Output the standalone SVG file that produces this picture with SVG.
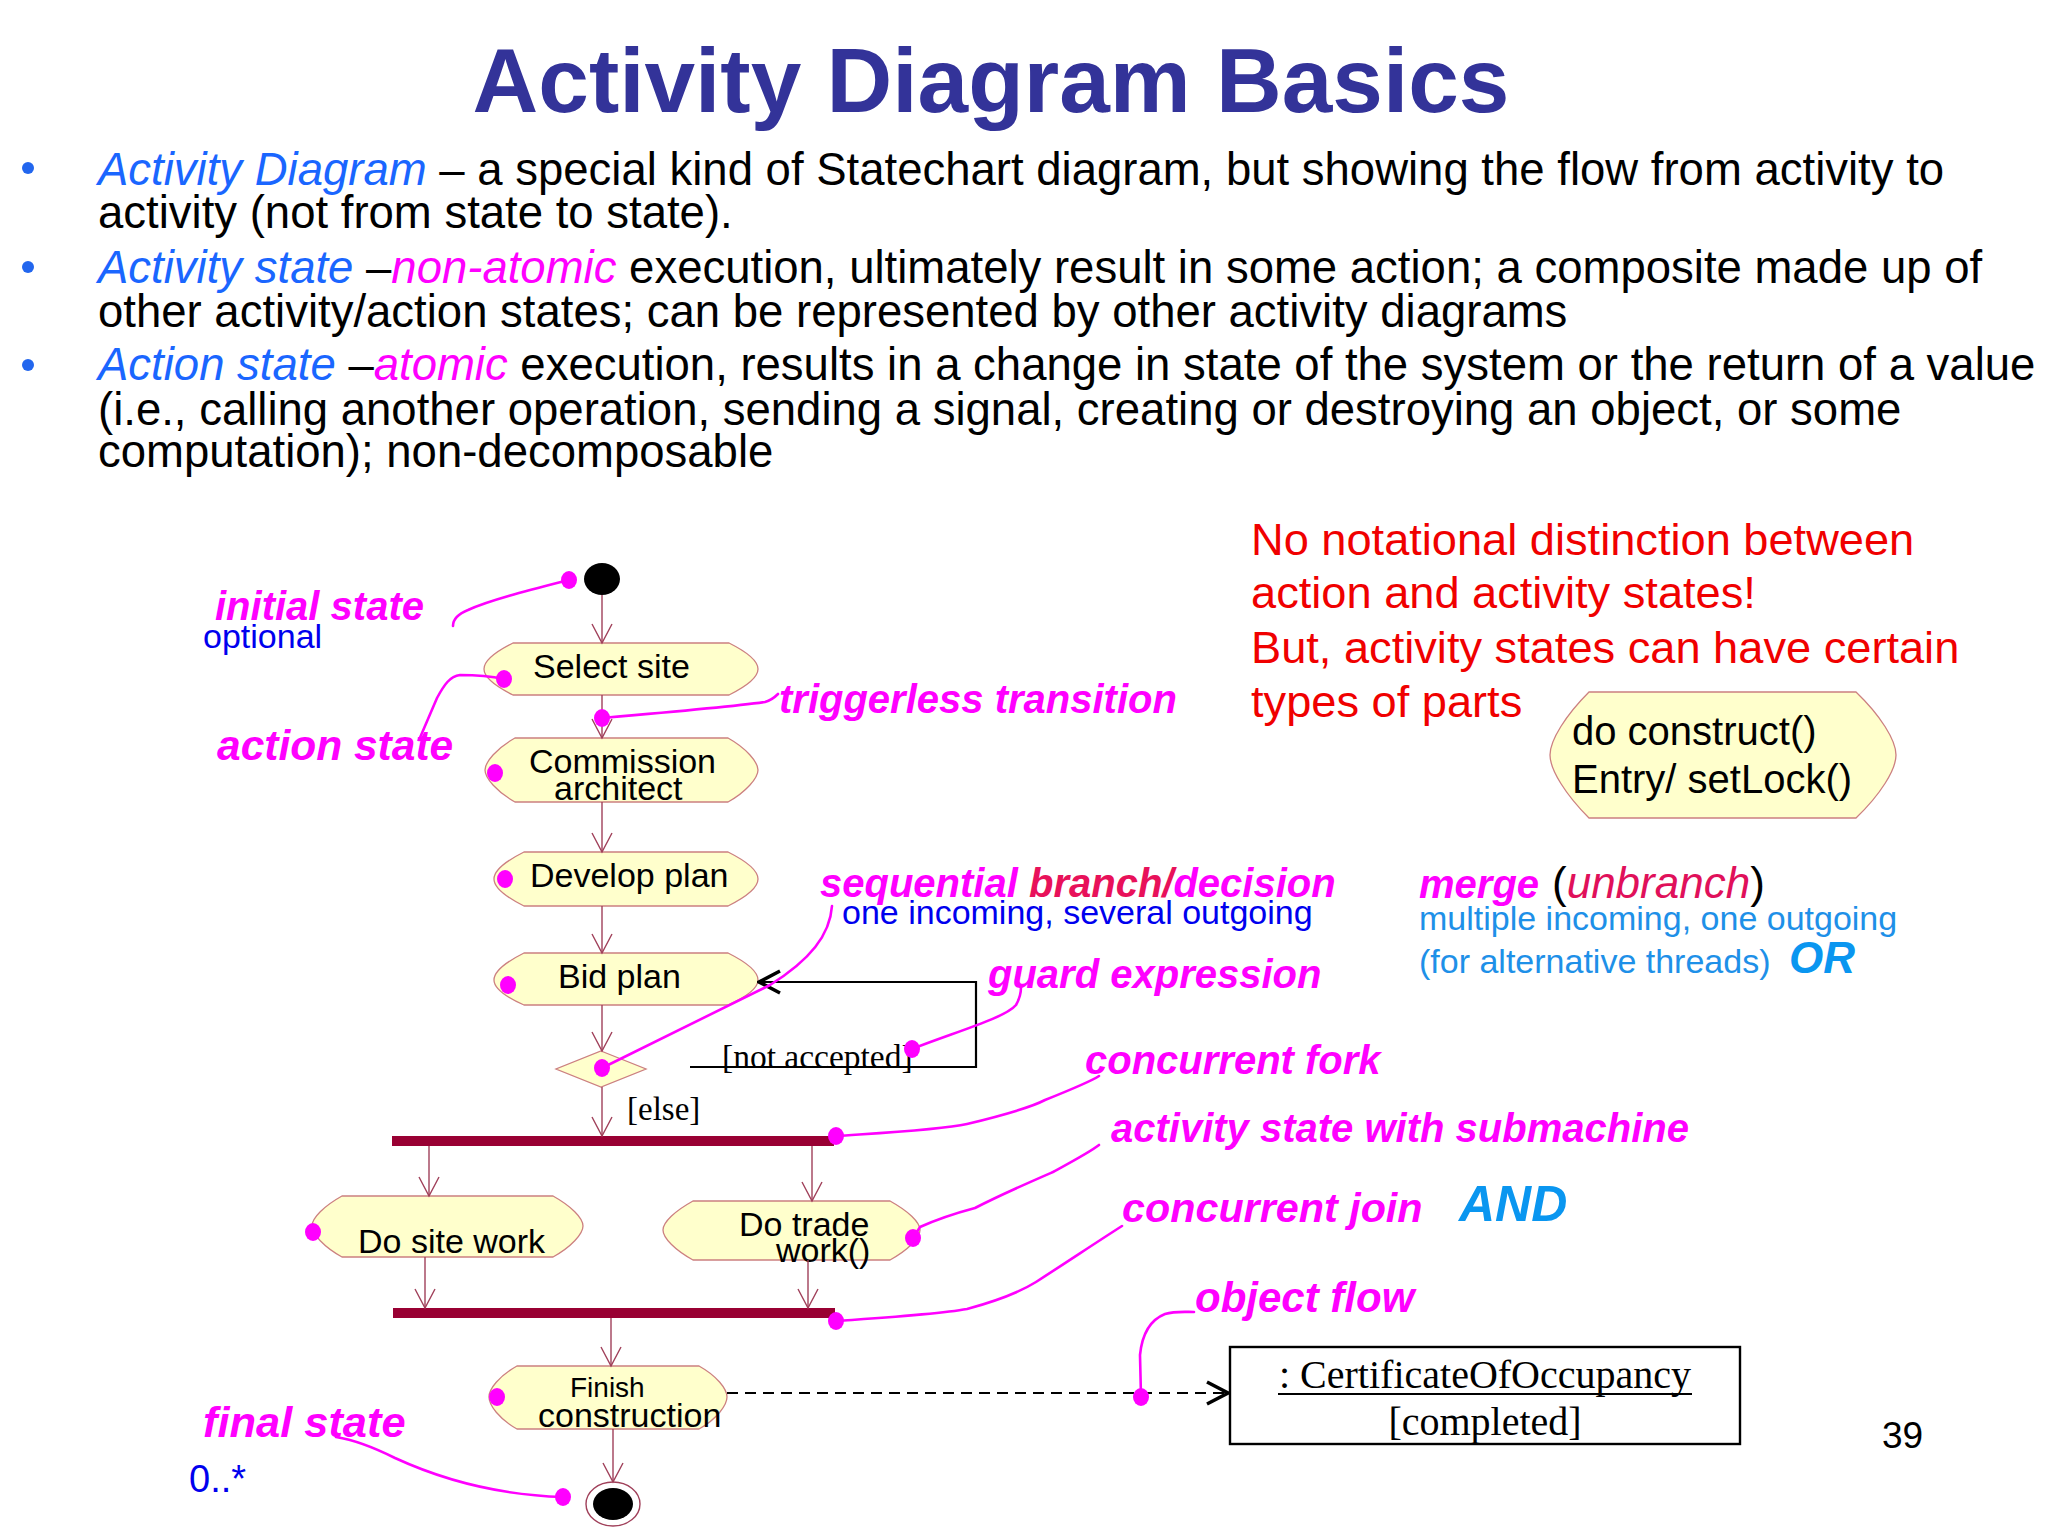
<svg xmlns="http://www.w3.org/2000/svg" width="2048" height="1536" viewBox="0 0 2048 1536">
<defs>
<style>
.sans{font-family:"Liberation Sans",Arial,sans-serif}
.serif{font-family:"Liberation Serif","Times New Roman",serif}
.node{fill:#ffffcc;stroke:#cc8080;stroke-width:1.3}
.tr{fill:none;stroke:#a0405a;stroke-width:1.4;marker-end:url(#v)}
.ann{fill:none;stroke:#ff00ff;stroke-width:2.6;stroke-linecap:round}
.dot{fill:#ff00ff}
.lbl{font-family:"Liberation Sans",Arial,sans-serif;font-weight:bold;font-style:italic;fill:#ff00ff}
.nt{font-family:"Liberation Sans",Arial,sans-serif;fill:#000}
.bt{font-family:"Liberation Sans",Arial,sans-serif;font-size:45.5px;fill:#000}
.blue{fill:#1a66ff;font-style:italic}
.mag{fill:#ff00ff;font-style:italic}
.red{font-family:"Liberation Sans",Arial,sans-serif;font-size:45.2px;fill:#f00000}
.sky{font-family:"Liberation Sans",Arial,sans-serif;font-size:34px;fill:#1e90e8}
.bar{fill:#990033}
</style>
<marker id="v" markerUnits="userSpaceOnUse" viewBox="-21 -12 23 24" refX="0" refY="0" markerWidth="23" markerHeight="24" orient="auto">
<path d="M-19,-10 L0,0 L-19,10" fill="none" stroke="#a0405a" stroke-width="1.4"/>
</marker>
<marker id="blk" markerUnits="userSpaceOnUse" viewBox="-26 -14 28 28" refX="0" refY="0" markerWidth="28" markerHeight="28" orient="auto">
<path d="M-21,-11 L0,0 L-21,11" fill="none" stroke="#000" stroke-width="3.5"/>
</marker>
</defs>
<rect width="2048" height="1536" fill="#ffffff"/>

<g id="title">
<text x="991" y="112" text-anchor="middle" class="sans" font-size="91" font-weight="bold" fill="#333399">Activity Diagram Basics</text>
</g>

<g id="bullets">
<circle cx="28" cy="168" r="6" fill="#2266ee"/>
<circle cx="28" cy="267" r="6" fill="#2266ee"/>
<circle cx="28" cy="365" r="6" fill="#2266ee"/>
<text class="bt" x="98" y="185"><tspan class="blue">Activity Diagram</tspan> – a special kind of Statechart diagram, but showing the flow from activity to</text>
<text class="bt" x="98" y="228">activity (not from state to state).</text>
<text class="bt" x="98" y="283"><tspan class="blue">Activity state</tspan> –<tspan class="mag">non-atomic</tspan> execution, ultimately result in some action; a composite made up of</text>
<text class="bt" x="98" y="327">other activity/action states; can be represented by other activity diagrams</text>
<text class="bt" x="98" y="380"><tspan class="blue">Action state</tspan> –<tspan class="mag">atomic</tspan> execution, results in a change in state of the system or the return of a value</text>
<text class="bt" x="98" y="425">(i.e., calling another operation, sending a signal, creating or destroying an object, or some</text>
<text class="bt" x="98" y="467">computation); non-decomposable</text>
</g>

<g id="note-red">
<text class="red" x="1251" y="555">No notational distinction between</text>
<text class="red" x="1251" y="608">action and activity states!</text>
<text class="red" x="1251" y="663">But, activity states can have certain</text>
<text class="red" x="1251" y="717">types of parts</text>
</g>

<g id="node-construct">
<path class="node" d="M1589 692 H1856 C1880 715 1896 740 1896 755 C1896 770 1880 795 1856 818 H1589 C1566 795 1550 770 1550 755 C1550 740 1566 715 1589 692 Z"/>
<text class="nt" x="1572" y="745" font-size="40">do construct()</text>
<text class="nt" x="1572" y="793" font-size="40">Entry/ setLock()</text>
</g>

<g id="node-initial">
<ellipse cx="602" cy="579" rx="18" ry="16" fill="#000"/>
</g>

<g id="node-select-site">
<path class="node" d="M513 643 H729 C747 652 758 661 758 669 C758 677 747 686 729 695 H513 C495 686 484 677 484 669 C484 661 495 652 513 643 Z"/>
<text class="nt" x="533" y="678" font-size="34">Select site</text>
</g>

<g id="node-commission">
<path class="node" d="M515 738 H728 C746 748 758 762 758 770 C758 778 746 792 728 802 H515 C497 792 485 778 485 770 C485 762 497 748 515 738 Z"/>
<text class="nt" x="529" y="773" font-size="34">Commission</text>
<text class="nt" x="554" y="800" font-size="34">architect</text>
</g>

<g id="node-develop">
<path class="node" d="M524 852 H728 C746 861 758 871 758 879 C758 887 746 897 728 906 H524 C506 897 494 887 494 879 C494 871 506 861 524 852 Z"/>
<text class="nt" x="530" y="887" font-size="34">Develop plan</text>
</g>

<g id="node-bid">
<path class="node" d="M524 953 H728 C746 962 758 972 758 980 C758 988 746 997 728 1005 H524 C506 997 494 988 494 980 C494 972 506 962 524 953 Z"/>
<text class="nt" x="558" y="988" font-size="34">Bid plan</text>
</g>

<g id="node-decision">
<polygon class="node" points="601,1051 646,1069 601,1087 556,1069"/>
</g>

<g id="node-fork">
<rect class="bar" x="392" y="1136" width="442" height="10"/>
</g>

<g id="node-site-work">
<path class="node" d="M342 1196 H553 C571 1206 583 1218 583 1226 C583 1234 571 1247 553 1257 H342 C324 1247 312 1234 312 1226 C312 1218 324 1206 342 1196 Z"/>
<text class="nt" x="358" y="1253" font-size="34">Do site work</text>
</g>

<g id="node-trade-work">
<path class="node" d="M693 1201 H890 C908 1211 920 1222 920 1230 C920 1238 908 1250 890 1260 H693 C675 1250 663 1238 663 1230 C663 1222 675 1211 693 1201 Z"/>
<text class="nt" x="739" y="1236" font-size="34">Do trade</text>
<text class="nt" x="776" y="1262" font-size="34">work()</text>
</g>

<g id="node-join">
<rect class="bar" x="393" y="1308" width="442" height="10"/>
</g>

<g id="node-finish">
<path class="node" d="M517 1366 H699 C717 1376 727 1389 727 1397 C727 1405 717 1419 699 1429 H517 C499 1419 489 1405 489 1397 C489 1389 499 1376 517 1366 Z"/>
<text class="nt" x="570" y="1397" font-size="28">Finish</text>
<text class="nt" x="538" y="1427" font-size="34">construction</text>
</g>

<g id="node-final">
<ellipse cx="613" cy="1504" rx="27" ry="22" fill="#ffffff" stroke="#a0405a" stroke-width="1.4"/>
<ellipse cx="613" cy="1504" rx="20" ry="16" fill="#000"/>
</g>

<g id="node-object">
<rect x="1230" y="1347" width="510" height="97" fill="#ffffff" stroke="#000" stroke-width="2.4"/>
<text class="serif" x="1485" y="1388" text-anchor="middle" font-size="40">: CertificateOfOccupancy</text>
<line x1="1278" y1="1394" x2="1692" y2="1394" stroke="#000" stroke-width="2"/>
<text class="serif" x="1485" y="1435" text-anchor="middle" font-size="40">[completed]</text>
</g>

<g id="connectors">
<line class="tr" x1="602" y1="595" x2="602" y2="643"/>
<line class="tr" x1="602" y1="695" x2="602" y2="738"/>
<line class="tr" x1="602" y1="802" x2="602" y2="852"/>
<line class="tr" x1="602" y1="906" x2="602" y2="953"/>
<line class="tr" x1="602" y1="1005" x2="602" y2="1051"/>
<line class="tr" x1="602" y1="1087" x2="602" y2="1136"/>
<line class="tr" x1="429" y1="1146" x2="429" y2="1196"/>
<line class="tr" x1="812" y1="1146" x2="812" y2="1201"/>
<line class="tr" x1="425" y1="1257" x2="425" y2="1308"/>
<line class="tr" x1="808" y1="1260" x2="808" y2="1308"/>
<line class="tr" x1="611" y1="1318" x2="611" y2="1366"/>
<line class="tr" x1="613" y1="1429" x2="613" y2="1482"/>
<polyline points="690,1067 976,1067 976,982 759,982" fill="none" stroke="#000" stroke-width="2.2" marker-end="url(#blk)"/>
<line x1="727" y1="1393" x2="1228" y2="1393" stroke="#000" stroke-width="2.2" stroke-dasharray="11 7" marker-end="url(#blk)"/>
<text class="serif" x="627" y="1120" font-size="33">[else]</text>
<text class="serif" x="722" y="1068" font-size="33.5">[not accepted]</text>
</g>

<g id="annotations">
<path class="ann" d="M569 580 C530 590 490 600 468 610 C458 614 453 620 453 626"/>
<path class="ann" d="M504 679 C490 676 470 675 460 675 C450 676 444 685 437 698 L419 740"/>
<path class="ann" d="M602 718 C660 713 730 707 765 702 C772 700 775 697 778 694"/>
<path class="ann" d="M602 1068 L770 985 C810 960 830 935 832 906"/>
<path class="ann" d="M912 1049 C955 1032 1005 1018 1016 1005 C1020 998 1021 992 1021 987"/>
<path class="ann" d="M836 1136 C880 1133 940 1130 967 1124 C1000 1116 1030 1108 1045 1100 C1070 1090 1090 1082 1099 1076"/>
<path class="ann" d="M913 1238 L920 1227 C940 1218 960 1212 975 1208 C1000 1195 1030 1182 1053 1172 C1075 1160 1090 1152 1099 1145"/>
<path class="ann" d="M836 1321 C880 1318 940 1314 967 1309 C1000 1300 1020 1292 1036 1282 C1070 1260 1100 1240 1122 1226"/>
<path class="ann" d="M1141 1397 L1140 1355 C1142 1335 1150 1320 1165 1314 C1175 1311 1185 1312 1194 1312"/>
<path class="ann" d="M563 1497 C500 1495 445 1481 395 1458 C375 1448 355 1440 336 1437"/>
<ellipse class="dot" cx="569" cy="580" rx="8" ry="9"/>
<ellipse class="dot" cx="504" cy="679" rx="8" ry="9"/>
<ellipse class="dot" cx="602" cy="718" rx="8" ry="9"/>
<ellipse class="dot" cx="495" cy="773" rx="8" ry="9"/>
<ellipse class="dot" cx="505" cy="879" rx="8" ry="9"/>
<ellipse class="dot" cx="508" cy="985" rx="8" ry="9"/>
<ellipse class="dot" cx="602" cy="1068" rx="8" ry="9"/>
<ellipse class="dot" cx="912" cy="1049" rx="8" ry="9"/>
<ellipse class="dot" cx="836" cy="1136" rx="8" ry="9"/>
<ellipse class="dot" cx="313" cy="1232" rx="8" ry="9"/>
<ellipse class="dot" cx="913" cy="1238" rx="8" ry="9"/>
<ellipse class="dot" cx="836" cy="1321" rx="8" ry="9"/>
<ellipse class="dot" cx="497" cy="1397" rx="8" ry="9"/>
<ellipse class="dot" cx="1141" cy="1397" rx="8" ry="9"/>
<ellipse class="dot" cx="563" cy="1497" rx="8" ry="9"/>

<text class="lbl" x="215" y="620" font-size="40">initial state</text>
<text class="sans" x="203" y="648" font-size="34" fill="#0000ee">optional</text>
<text class="lbl" x="217" y="760" font-size="42.5">action state</text>
<text class="lbl" x="779" y="713" font-size="40">triggerless transition</text>
<text class="lbl" x="820" y="897" font-size="40">sequential <tspan fill="#e8115a">branch/</tspan>decision</text>
<text class="sans" x="842" y="924" font-size="34" fill="#0000ee">one incoming, several outgoing</text>
<text class="lbl" x="988" y="988" font-size="40">guard expression</text>
<text class="lbl" x="1085" y="1074" font-size="40">concurrent fork</text>
<text class="lbl" x="1111" y="1142" font-size="40">activity state with submachine</text>
<text class="lbl" x="1122" y="1222" font-size="41.3">concurrent join</text>
<text class="sans" x="1459" y="1221" font-size="50" font-weight="bold" font-style="italic" fill="#0a96f0">AND</text>
<text class="lbl" x="1195" y="1312" font-size="42">object flow</text>
<text class="lbl" x="203" y="1437" font-size="43.4">final state</text>
<text class="sans" x="189" y="1492" font-size="38" fill="#0000ee">0..*</text>
<text class="lbl" x="1419" y="898" font-size="40" fill="#f070d8">merge</text>
<text class="sans" x="1552" y="898" font-size="44" fill="#000">(<tspan font-style="italic" fill="#e0105a">unbranch</tspan>)</text>
<text class="sky" x="1419" y="930">multiple incoming, one outgoing</text>
<text class="sky" x="1419" y="973">(for alternative threads)</text>
<text class="sans" x="1789" y="973" font-size="44" font-weight="bold" font-style="italic" fill="#0a96f0">OR</text>
</g>

<g id="page-number">
<text class="sans" x="1882" y="1448" font-size="37" fill="#000">39</text>
</g>
</svg>
